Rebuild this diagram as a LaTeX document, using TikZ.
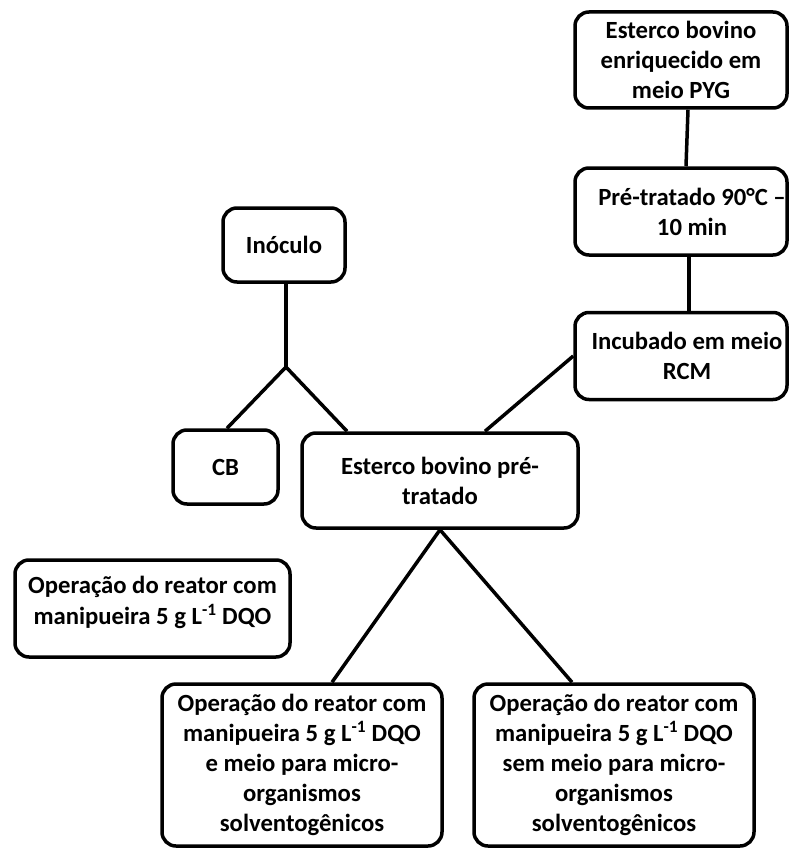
\documentclass[tikz,border=0pt]{standalone}
\usepackage{fontspec}
\setmainfont{Carlito}
\begin{document}
\begin{tikzpicture}[x=1pt,y=-1pt,
  box/.style={draw, line width=3.5pt, rounded corners=14pt, inner sep=0pt,
    align=center, font=\fontsize{24.7}{30}\selectfont\bfseries},
  label text/.style={inner sep=0pt, align=center,
    font=\fontsize{24.7}{30}\selectfont\bfseries},
  link/.style={line width=3.5pt}]
\useasboundingbox (0,0) rectangle (788,848);

% right-hand preparation chain
\node[box, minimum width=212pt, minimum height=96pt] (enr) at (681,60)
  {Esterco bovino\\enriquecido em\\meio PYG};
\node[box, minimum width=212pt, minimum height=87pt] (pre) at (681,211.5) {};
\node[label text] (pretxt) at (692,212) {Pré-tratado 90°C –\\10 min};
\node[box, minimum width=212pt, minimum height=87pt] (inc) at (681,356) {};
\node[label text] (inctxt) at (687,356) {Incubado em meio\\RCM};

% inoculum split
\node[box, minimum width=122pt, minimum height=74pt] (ino) at (284,245) {Inóculo};
\coordinate (split) at (286,367);
\node[box, minimum width=105pt, minimum height=74pt] (cb) at (225.5,467) {CB};
\node[box, minimum width=276pt, minimum height=95pt] (ept) at (440,480.5)
  {Esterco bovino pré-\\tratado};

% reactor operations
\node[box, minimum width=275pt, minimum height=97pt] (op0) at (152.5,608.5) {};
\node[label text, font=\fontsize{24.7}{31}\selectfont\bfseries] (op0txt) at (152.5,602)
  {Operação do reator com\\manipueira 5 g L\textsuperscript{-1} DQO};
\node[box, minimum width=280pt, minimum height=162pt] (opa) at (302,765)
  {Operação do reator com\\manipueira 5 g L\textsuperscript{-1} DQO\\e meio para micro-\\organismos\\solventogênicos};
\node[box, minimum width=280pt, minimum height=162pt] (opb) at (614,765)
  {Operação do reator com\\manipueira 5 g L\textsuperscript{-1} DQO\\sem meio para micro-\\organismos\\solventogênicos};

% connectors
\draw[link] (enr.south -| 688,0) -- (pre.north -| 686,0);
\draw[link] (pre.south -| 689,0) -- (inc.north -| 689,0);
\draw[link] (inc.west) -- (ept.north -| 485,0);
\draw[link] (ino.south -| split) -- (split);
\draw[link] (split) -- (cb.north -| 227,0);
\draw[link] (split) -- (ept.north -| 347,0);
\draw[link] (ept.south) -- (opa.north -| 332,0);
\draw[link] (ept.south) -- (opb.north -| 572,0);
\end{tikzpicture}
\end{document}
